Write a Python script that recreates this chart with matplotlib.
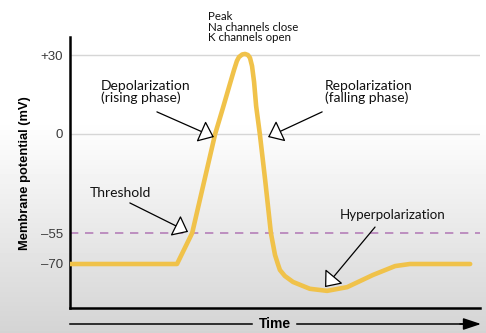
import matplotlib
matplotlib.use("Agg")
import matplotlib.pyplot as plt
import numpy as np

# Action potential trace (time in ms, membrane potential in mV)
time_ms = [0.0, 2.61, 2.98, 3.54, 3.73, 3.90, 4.00, 4.07, 4.12, 4.20, 4.27, 4.34,
           4.39, 4.44, 4.49, 4.54, 4.63, 4.76, 4.90, 5.00, 5.07, 5.12, 5.24, 5.44,
           5.85, 6.27, 6.76, 7.39, 7.93, 8.29, 9.76]
potential_mv = [-70, -70, -55, 0, 9.9, 19.0, 24.3, 27.7, 29.2, 30.2, 30.4, 30.0,
                28.9, 25.8, 19.7, 10.6, 0, -25.6, -55, -65.6, -70.0, -72.9, -75.8, -78.7,
                -82.0, -83.0, -81.2, -75.3, -71.0, -70, -70]

tick_values = [-70, -55, 0, 30]
tick_labels = ["\u201370", "\u201355", "0", "+30"]
grid_values = [0, 30]
threshold_mv = -55

# the drawing's y axis is not linear in mV, so use a piecewise scale
mv_knots = [-91.3, -70, -55, 0, 30, 36.8]
pos_knots = [0, 44, 75, 174, 253, 271]


def fwd(v):
    return np.interp(v, mv_knots, pos_knots)


def inv(p):
    return np.interp(p, pos_knots, mv_knots)


W, H = 486, 333
fig = plt.figure(figsize=(W / 100, H / 100), dpi=100)

# soft grey gradient background
bg = fig.add_axes([0, 0, 1, 1], zorder=-2)
rows = np.arange(H)
shade = np.clip(1 - (rows - 120) / (H - 120) * 0.17, 0.83, 1.0)
bg.imshow(shade[:, None], cmap="gray", vmin=0, vmax=1, aspect="auto",
          extent=[0, 1, 0, 1])
bg.axis("off")

ax = fig.add_axes([70 / W, 25 / H, 410 / W, 271 / H])
ax.set_facecolor("none")
ax.set_yscale("function", functions=(fwd, inv))
ax.set_xlim(0, 10.0)
ax.set_ylim(-91.3, 36.8)

for g in grid_values:
    ax.axhline(g, color="#d6d6d6", lw=1.0, zorder=1)
ax.axhline(threshold_mv, color="#b57fb8", lw=1.2, ls=(0, (5, 4)), zorder=1)

ax.plot(time_ms, potential_mv, color="#F0C24A", lw=3.3, solid_capstyle="round",
        solid_joinstyle="round", zorder=3)

ax.set_yticks(tick_values)
ax.set_yticklabels(tick_labels, fontsize=9.5, color="#3a3a3a", family="Liberation Sans")
ax.set_xticks([])
ax.tick_params(axis="y", length=0, pad=5)
for s in ["top", "right"]:
    ax.spines[s].set_visible(False)
for s in ["left", "bottom"]:
    ax.spines[s].set_linewidth(1.8)

label_font = dict(family="Lato", color="#111111")


def px(x, y):
    return (x / W, 1 - y / H)


fig.text(*px(208, 11), "Peak\nNa channels close\nK channels open", fontsize=8.3,
         va="top", ha="left", linespacing=0.95, **label_font)
fig.text(*px(101, 80), "Depolarization\n(rising phase)", fontsize=10,
         va="top", ha="left", linespacing=0.95, **label_font)
fig.text(*px(325, 80), "Repolarization\n(falling phase)", fontsize=10,
         va="top", ha="left", linespacing=0.95, **label_font)
fig.text(*px(90, 193), "Threshold", fontsize=10, va="center", ha="left", **label_font)
fig.text(*px(393, 215), "Hyperpolarization", fontsize=9.6, va="center", ha="center",
         **label_font)

arrow = dict(arrowstyle="-|>,head_length=0.75,head_width=0.6", fc="white",
             ec="black", lw=0.9, mutation_scale=12, shrinkA=0, shrinkB=0)
# (tip, tail) in data coordinates
arrows = [((3.51, -1.7), (2.12, 8.4)),
          ((4.83, -1.7), (6.15, 8.4)),
          ((2.88, -54.4), (1.46, -38.3)),
          ((6.22, -81.2), (7.44, -51.7))]
for tip, tail in arrows:
    ax.annotate("", xy=tip, xytext=tail, arrowprops=arrow, zorder=4)

fig.text(*px(25, 173), "Membrane potential (mV)", rotation=90, fontsize=9.3,
         fontweight="bold", family="Liberation Sans", ha="center", va="center")
fig.text(*px(275, 324), "Time", fontsize=10, fontweight="bold",
         family="Liberation Sans", ha="center", va="center")
fig.add_artist(plt.Line2D([70 / W, 252 / W], [9 / H, 9 / H], color="black", lw=1.1))
fig.add_artist(plt.Line2D([297 / W, 470 / W], [9 / H, 9 / H], color="black", lw=1.1))
ax.annotate("", xy=(481, 9), xytext=(460, 9), xycoords="figure pixels",
            textcoords="figure pixels",
            arrowprops=dict(arrowstyle="-|>,head_length=0.9,head_width=0.3",
                            color="black", lw=1.1, mutation_scale=12,
                            shrinkA=0, shrinkB=0),
            annotation_clip=False)

fig.savefig("out.png", dpi=100)
